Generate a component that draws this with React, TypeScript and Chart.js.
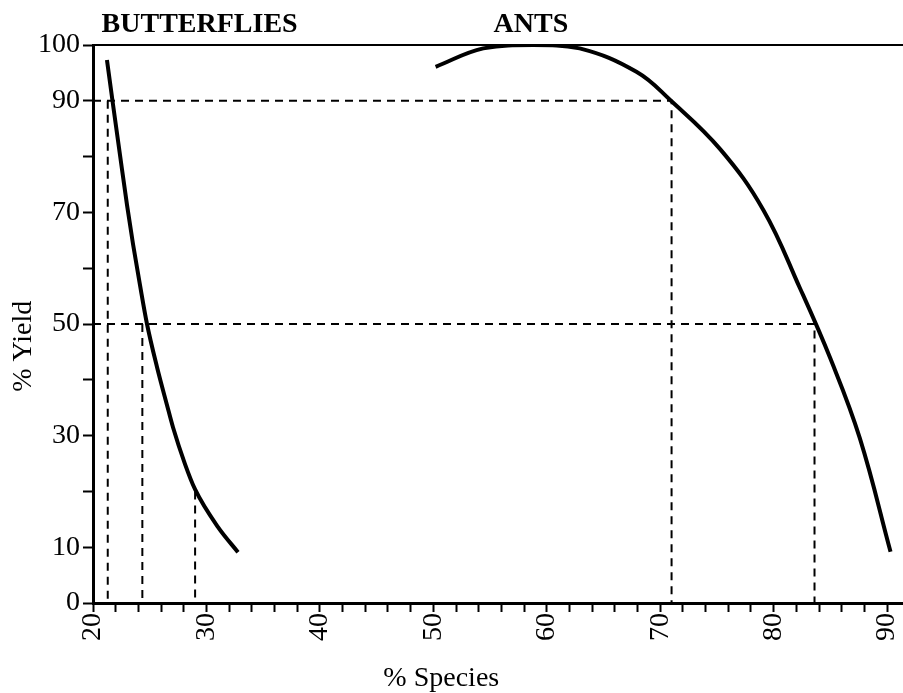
import React, { useEffect, useRef } from 'react';
import { Chart, registerables } from 'chart.js';

Chart.register(...registerables);

// Curves (x = % Species, y = % Yield)
const butterflyX = [21.23, 21.76, 22.38, 23.0, 23.53, 24.14, 24.76, 25.64, 26.52, 27.05, 28.11, 28.99, 31.02, 32.78];
const butterflyY = [97.3, 89.4, 80.3, 71.3, 64.3, 57.0, 50.0, 42.3, 35.5, 31.5, 24.9, 20.4, 13.6, 9.1];
const antsX = [50.2, 54.4, 58.8, 62.9, 67.9, 70.9, 75.3, 79.1, 82.3, 85.0, 87.6, 90.3];
const antsY = [96.1, 99.4, 100, 99.4, 95.2, 90.1, 81.3, 70.4, 56.5, 43.8, 29.5, 9.2];

// Dashed guide lines
const guideAnts90X = [20, 71.0, 71.0];
const guideAnts90Y = [90, 90, 0];
const guideAnts50X = [20, 83.6, 83.6];
const guideAnts50Y = [50, 50, 0];
const guideBfly90X = [21.3, 21.3];
const guideBfly90Y = [90, 0];
const guideBfly50X = [24.35, 24.35];
const guideBfly50Y = [50, 0];
const guideBfly20X = [29.0, 29.0];
const guideBfly20Y = [20, 0];

// Texts
const curveLabels = ['BUTTERFLIES', 'ANTS'];
const yTickLabels = [0, 10, 30, 50, 70, 90, 100];
const xTitle = '% Species';
const yTitle = '% Yield';

const FONT = '"Liberation Serif", "Times New Roman", serif';

const zip = (xs: number[], ys: number[]) => xs.map((x, i) => ({ x, y: ys[i] }));

const textPlugin = {
  id: 'figureTexts',
  afterDraw(chart: any) {
    const { ctx, chartArea } = chart;
    const xs = chart.scales.x;
    const ys = chart.scales.y;
    ctx.save();
    ctx.fillStyle = '#000';
    ctx.font = `bold 28px ${FONT}`;
    ctx.textAlign = 'center';
    ctx.textBaseline = 'alphabetic';
    const labelAt = [29.4, 58.6];
    curveLabels.forEach((t, i) => {
      ctx.fillText(t, xs.getPixelForValue(labelAt[i]), chartArea.top - 13);
    });
    ctx.font = `28px ${FONT}`;
    ctx.fillText(xTitle, xs.getPixelForValue(50.7), chartArea.bottom + 83);
    ctx.translate(31, ys.getPixelForValue(46));
    ctx.rotate(-Math.PI / 2);
    ctx.fillText(yTitle, 0, 0);
    ctx.restore();
  },
};

export default function App() {
  const ref = useRef<HTMLCanvasElement>(null);
  useEffect(() => {
    if (!ref.current) return;
    const solid = (data: any[], smooth: any) => ({
      data,
      showLine: true,
      borderColor: '#000',
      backgroundColor: '#000',
      borderWidth: 4,
      pointRadius: 0,
      ...smooth,
    });
    const dashed = (data: any[]) => ({
      data,
      showLine: true,
      borderColor: '#000',
      backgroundColor: '#000',
      borderWidth: 2,
      borderDash: [8, 6],
      pointRadius: 0,
      tension: 0,
    });
    const chart = new Chart(ref.current, {
      type: 'scatter',
      data: {
        datasets: [
          { label: 'Butterflies', ...solid(zip(butterflyX, butterflyY), { cubicInterpolationMode: 'monotone' }) },
          { label: 'Ants', ...solid(zip(antsX, antsY), { tension: 0.4 }) },
          { label: 'g1', ...dashed(zip(guideAnts90X, guideAnts90Y)) },
          { label: 'g2', ...dashed(zip(guideAnts50X, guideAnts50Y)) },
          { label: 'g3', ...dashed(zip(guideBfly90X, guideBfly90Y)) },
          { label: 'g4', ...dashed(zip(guideBfly50X, guideBfly50Y)) },
          { label: 'g5', ...dashed(zip(guideBfly20X, guideBfly20Y)) },
        ] as any,
      },
      options: {
        responsive: false,
        animation: false,
        layout: { padding: { top: 45, right: 0, bottom: 0, left: 0 } },
        plugins: { legend: { display: false }, tooltip: { enabled: false } },
        scales: {
          x: {
            type: 'linear',
            position: 'bottom',
            min: 20,
            max: 91.4,
            afterFit: (s: any) => { s.height = 90; s.paddingRight = 0; s.paddingLeft = 0; },
            border: { display: true, color: '#000', width: 3 },
            grid: { drawOnChartArea: false, drawTicks: true, tickLength: 9, tickWidth: 2, tickColor: '#000' },
            ticks: {
              stepSize: 2,
              includeBounds: false,
              autoSkip: false,
              minRotation: 90,
              maxRotation: 90,
              padding: 1,
              color: '#000',
              font: { family: FONT, size: 28 },
              callback: (v: any) => (Math.round(v) % 10 === 0 ? String(Math.round(v)) : ''),
            },
          },
          x2: {
            type: 'linear',
            position: 'top',
            min: 20,
            max: 91.4,
            afterFit: (s: any) => { s.height = 0; s.paddingRight = 0; s.paddingLeft = 0; },
            border: { display: true, color: '#000', width: 2 },
            grid: { display: false },
            ticks: { display: false },
          },
          y: {
            type: 'linear',
            min: 0,
            max: 100,
            afterFit: (s: any) => { s.width = 93; },
            border: { display: true, color: '#000', width: 3 },
            grid: { drawOnChartArea: false, drawTicks: true, tickLength: 10, tickWidth: 2, tickColor: '#000' },
            ticks: {
              stepSize: 10,
              autoSkip: false,
              padding: 3,
              color: '#000',
              font: { family: FONT, size: 28 },
              callback: (v: any) => (yTickLabels.includes(Math.round(v)) ? String(Math.round(v)) : ''),
            },
          },
        },
      } as any,
      plugins: [textPlugin],
    });
    return () => chart.destroy();
  }, []);
  return (
    <div style={{ position: 'absolute', left: 0, top: 0, width: 903, height: 693, background: '#fff' }}>
      <canvas ref={ref} width={903} height={693} style={{ display: 'block' }} />
    </div>
  );
}
